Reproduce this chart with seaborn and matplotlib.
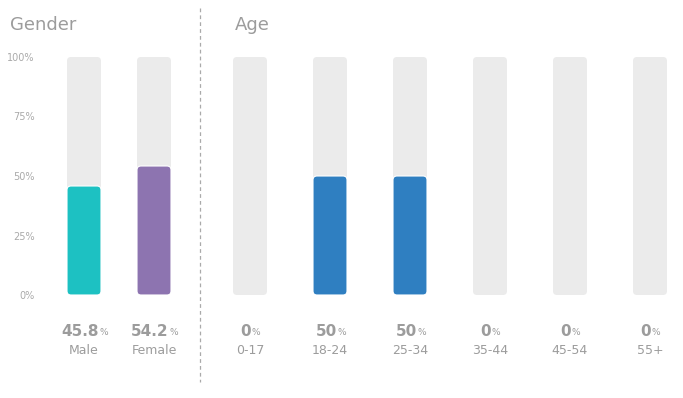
import matplotlib
matplotlib.use("Agg")
import matplotlib.pyplot as plt
from matplotlib.patches import FancyBboxPatch
from matplotlib.lines import Line2D
import seaborn as sns
import pandas as pd

# ---- data ----
gender_cats = ["Male", "Female"]
gender_vals = [45.8, 54.2]
gender_colors = ["#1dc1c2", "#8d74b0"]

age_cats = ["0-17", "18-24", "25-34", "35-44", "45-54", "55+"]
age_vals = [0, 50, 50, 0, 0, 0]
age_color = "#2f7fc1"

yticks = [0, 25, 50, 75, 100]
ytick_labels = ["0%", "25%", "50%", "75%", "100%"]

sns.set_style("white")
plt.rcParams["font.family"] = ["DejaVu Sans"]

TXT = "#9c9c9c"
BG = "#ebebeb"
W, H = 683, 398
fig = plt.figure(figsize=(W / 100, H / 100), dpi=100)


def px_axes(l, r, top, bottom):
    return fig.add_axes([l / W, 1 - bottom / H, (r - l) / W, (bottom - top) / H])


def round_bars(ax, patches, r_px=4, edge=None):
    bb = ax.get_window_extent()
    x0, x1 = ax.get_xlim()
    y0, y1 = ax.get_ylim()
    xu = (x1 - x0) / bb.width
    yu = (y1 - y0) / bb.height
    for p in patches:
        x, y = p.get_xy()
        w, h = p.get_width(), p.get_height()
        fc = p.get_facecolor()
        p.remove()
        if h <= 0:
            continue
        nb = FancyBboxPatch((x, y), w, h,
                            boxstyle=f"round,pad=0,rounding_size={r_px * xu}",
                            mutation_aspect=yu / xu, fc=fc,
                            ec=edge if edge else "none", lw=0.8 if edge else 0)
        ax.add_patch(nb)


def draw_panel(ax, cats, vals, palette, width, xlim):
    df = pd.DataFrame({"cat": cats, "val": vals, "full": [100] * len(cats)})
    sns.barplot(data=df, x="cat", y="full", color=BG, width=width, ax=ax,
                saturation=1, order=cats)
    n0 = len(ax.patches)
    bg_patches = list(ax.patches)
    sns.barplot(data=df, x="cat", y="val", hue="cat", palette=palette,
                width=width, ax=ax, saturation=1, legend=False, order=cats,
                hue_order=cats)
    val_patches = list(ax.patches)[n0:]
    ax.set_xlim(*xlim)
    ax.set_ylim(0, 100)
    round_bars(ax, bg_patches)
    round_bars(ax, val_patches, edge="white")
    for s in ax.spines.values():
        s.set_visible(False)
    ax.set_xlabel("")
    ax.set_ylabel("")
    ax.set_xticks([])
    for i, (c, v) in enumerate(zip(cats, vals)):
        num = ax.annotate(f"{v:g}", xy=(i, 0), xycoords="data",
                          xytext=(-4, -36), textcoords="offset pixels",
                          ha="center", va="center", fontsize=11,
                          fontweight="bold", color=TXT)
        ax.annotate("%", xy=(1, 0.22), xycoords=num, xytext=(0.5, 0),
                    textcoords="offset pixels", ha="left", va="baseline",
                    fontsize=6.5, color=TXT)
        ax.annotate(c, xy=(i, 0), xycoords="data", xytext=(0, -55),
                    textcoords="offset pixels", ha="center", va="center",
                    fontsize=9, color=TXT)


ax_g = px_axes(50, 190, 57, 295)
ax_a = px_axes(220, 680, 57, 295)

draw_panel(ax_g, gender_cats, gender_vals, gender_colors, 34 / 70,
           ((50 - 84) / 70, (190 - 84) / 70))
draw_panel(ax_a, age_cats, age_vals, [age_color] * len(age_cats), 34 / 80,
           ((220 - 250) / 80, (680 - 250) / 80))

ax_g.set_yticks(yticks)
ax_g.set_yticklabels(ytick_labels)
ax_g.tick_params(axis="y", length=0, pad=11, labelsize=7, labelcolor="#aaaaaa")
ax_a.set_yticks([])

fig.text(10 / W, 1 - 25 / H, "Gender", fontsize=13, color=TXT, va="center", ha="left")
fig.text(235 / W, 1 - 25 / H, "Age", fontsize=13, color=TXT, va="center", ha="left")

fig.add_artist(Line2D([199.5 / W, 199.5 / W], [1 - 8 / H, 1 - 382 / H],
                      transform=fig.transFigure, color="#aaaaaa", lw=0.9,
                      linestyle=(0, (3, 2.5))))

fig.savefig("out.png", dpi=100)
